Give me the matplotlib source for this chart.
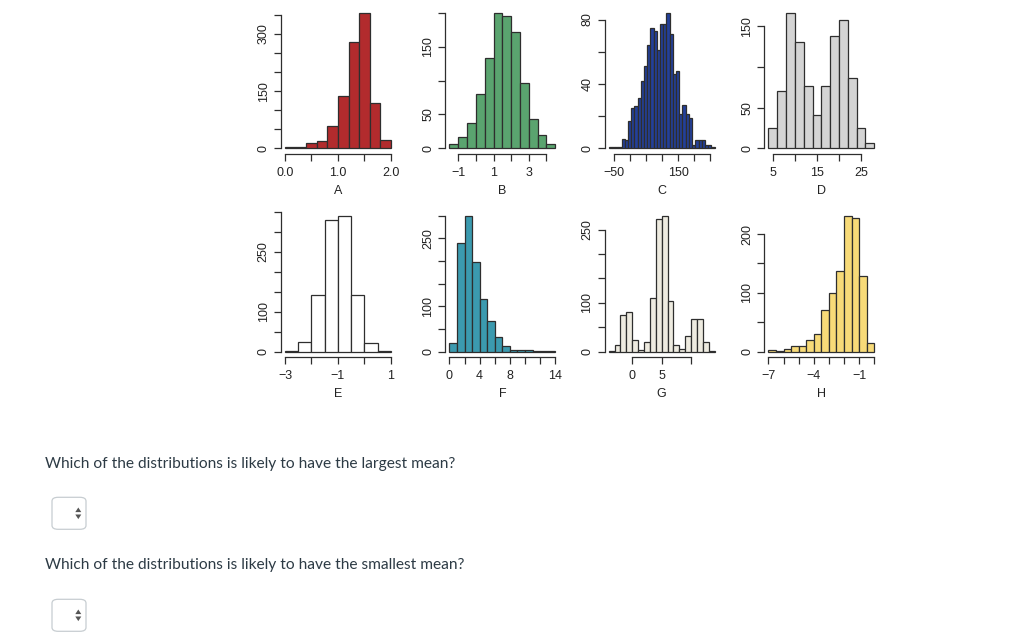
import numpy as np
import matplotlib
matplotlib.use("Agg")
import matplotlib.pyplot as plt
from matplotlib.patches import FancyBboxPatch, Polygon

plt.rcParams['font.family'] = ['Liberation Sans', 'DejaVu Sans']

# histogram data: bin start, bin width, counts
a_start, a_step = 0.0, 0.2
a_counts = [3, 3, 13, 18, 58, 138, 280, 355, 119, 21]
b_start, b_step = -1.5, 0.5
b_counts = [6, 16, 37, 80, 133, 200, 196, 172, 97, 44, 19, 7]
c_start, c_step = -66, 10
c_counts = [1, 1, 1, 1, 6, 5, 17, 25, 26, 31, 42, 51, 64, 75, 73, 61, 77,
            77, 84, 71, 46, 48, 21, 27, 21, 19, 2, 5, 5, 5, 2, 2, 1]
d_start, d_step = 4, 2
d_counts = [25, 70, 166, 130, 77, 41, 77, 138, 158, 86, 25, 7]
e_start, e_step = -3.0, 0.5
e_counts = [2, 25, 143, 329, 339, 141, 21, 2]
f_start, f_step = 0, 1
f_counts = [20, 240, 298, 198, 117, 68, 33, 13, 4, 4, 3, 1, 1, 1]
g_start, g_step = -4, 1
g_counts = [1, 13, 74, 82, 24, 3, 20, 110, 271, 277, 104, 13, 6, 32, 66, 66, 20, 1]
h_start, h_step = -7.0, 0.5
h_counts = [3, 1, 5, 9, 9, 19, 30, 70, 100, 137, 230, 228, 128, 15]

# axis ticks and the labels R kept
a_xt, a_xl = [0, 0.5, 1.0, 1.5, 2.0], ['0.0', '', '1.0', '', '2.0']
a_yt, a_yl = [0, 50, 100, 150, 200, 250, 300, 350], ['0', '', '', '150', '', '', '300', '']
b_xt, b_xl = [-1, 0, 1, 2, 3, 4], ['\u22121', '', '1', '', '3', '']
b_yt, b_yl = [0, 50, 100, 150, 200], ['0', '50', '', '150', '']
c_xt, c_xl = [-50, 0, 50, 100, 150, 200, 250], ['\u221250', '', '', '', '150', '', '']
c_yt, c_yl = [0, 20, 40, 60, 80], ['0', '', '40', '', '80']
d_xt, d_xl = [5, 10, 15, 20, 25], ['5', '', '15', '', '25']
d_yt, d_yl = [0, 50, 100, 150], ['0', '50', '', '150']
e_xt, e_xl = [-3, -2, -1, 0, 1], ['\u22123', '', '\u22121', '', '1']
e_yt, e_yl = [0, 50, 100, 150, 200, 250, 300, 350], ['0', '', '100', '', '', '250', '', '']
f_xt, f_xl = [0, 2, 4, 6, 8, 10, 12, 14], ['0', '', '4', '', '8', '', '', '14']
f_yt, f_yl = [0, 50, 100, 150, 200, 250, 300], ['0', '', '100', '', '', '250', '']
g_xt, g_xl = [0, 5, 10], ['0', '5', '']
g_yt, g_yl = [0, 50, 100, 150, 200, 250], ['0', '', '100', '', '', '250']
h_xt, h_xl = [-7, -6, -5, -4, -3, -2, -1, 0], ['\u22127', '', '', '\u22124', '', '', '\u22121', '']
h_yt, h_yl = [0, 50, 100, 150, 200], ['0', '', '100', '', '200']

panels = [
    ('A', a_start, a_step, a_counts, a_xt, a_xl, a_yt, a_yl, '#B22B2D'),
    ('B', b_start, b_step, b_counts, b_xt, b_xl, b_yt, b_yl, '#5AA46F'),
    ('C', c_start, c_step, c_counts, c_xt, c_xl, c_yt, c_yl, '#23409A'),
    ('D', d_start, d_step, d_counts, d_xt, d_xl, d_yt, d_yl, '#D4D4D4'),
    ('E', e_start, e_step, e_counts, e_xt, e_xl, e_yt, e_yl, '#FFFFFF'),
    ('F', f_start, f_step, f_counts, f_xt, f_xl, f_yt, f_yl, '#3B9AAF'),
    ('G', g_start, g_step, g_counts, g_xt, g_xl, g_yt, g_yl, '#EEEBE0'),
    ('H', h_start, h_step, h_counts, h_xt, h_xl, h_yt, h_yl, '#F7DA78'),
]

W, H = 1024, 641
fig = plt.figure(figsize=(W / 100, H / 100), dpi=100)

col_left = [280.8, 445.2, 604.5, 764.2]
row_top = [7.7, 211.0]
pw, ph = 114.3, 146.0
ink = '#2E2E2E'

for i, (name, start, step, counts, xt, xl, yt, yl, color) in enumerate(panels):
    r, c = divmod(i, 4)
    x0, y0 = col_left[c], row_top[r]
    ax = fig.add_axes([x0 / W, 1 - (y0 + ph) / H, pw / W, ph / H])
    n = len(counts)
    edges = start + step * np.arange(n + 1)
    ax.bar(edges[:-1], counts, width=step, align='edge', color=color,
           edgecolor=ink, linewidth=0.9)
    rng = edges[-1] - edges[0]
    ax.set_xlim(edges[0] - 0.04 * rng, edges[-1] + 0.04 * rng)
    top = max(counts)
    ax.set_ylim(-0.04 * top, 1.04 * top)
    for s in ['top', 'right']:
        ax.spines[s].set_visible(False)
    ax.spines['left'].set_bounds(yt[0], yt[-1])
    ax.spines['bottom'].set_bounds(xt[0], xt[-1])
    for s in ['left', 'bottom']:
        ax.spines[s].set_color(ink)
        ax.spines[s].set_linewidth(0.9)
    ax.set_xticks(xt)
    ax.set_xticklabels(xl)
    ax.set_yticks(yt)
    ax.set_yticklabels(yl, rotation=90, va='center')
    ax.tick_params(axis='both', direction='out', length=5, width=0.9,
                   color=ink, labelsize=9, labelcolor='#222222')
    ax.tick_params(axis='x', pad=4.5)
    ax.tick_params(axis='y', pad=3.0)
    ax.patch.set_alpha(0)
    ax.annotate(name, xy=(0.5, 0), xycoords='axes fraction',
                xytext=(0, -26.5), textcoords='offset points',
                ha='center', va='center', fontsize=9, color='#222222')

# question text and dropdown boxes
q_color = '#2D3B45'
questions = ['Which of the distributions is likely to have the largest mean?',
             'Which of the distributions is likely to have the smallest mean?']
q_y = [464, 565]
box_y = [497.3, 599.3]
for q, qy, by in zip(questions, q_y, box_y):
    fig.text(45 / W, 1 - qy / H, q, fontsize=11.2, color=q_color,
             family=['Lato', 'DejaVu Sans'], ha='left', va='center')
    bx, bw, bh = 52, 34, 32
    box = FancyBboxPatch((bx / W, 1 - (by + bh) / H), bw / W, bh / H,
                         boxstyle='round,pad=0,rounding_size=0.006',
                         transform=fig.transFigure, facecolor='white',
                         edgecolor='#C7CDD1', linewidth=0.9)
    fig.patches.append(box)
    cx, cy = 78.3, by + bh / 2
    up = [(cx - 3, cy - 1.2), (cx + 3, cy - 1.2), (cx, cy - 5.8)]
    dn = [(cx - 3, cy + 1.2), (cx + 3, cy + 1.2), (cx, cy + 5.8)]
    for tri in (up, dn):
        pts = [(px / W, 1 - py / H) for px, py in tri]
        fig.patches.append(Polygon(pts, closed=True, transform=fig.transFigure,
                                   facecolor='#555555', edgecolor='none'))

fig.savefig('out.png', dpi=100, facecolor='white')
